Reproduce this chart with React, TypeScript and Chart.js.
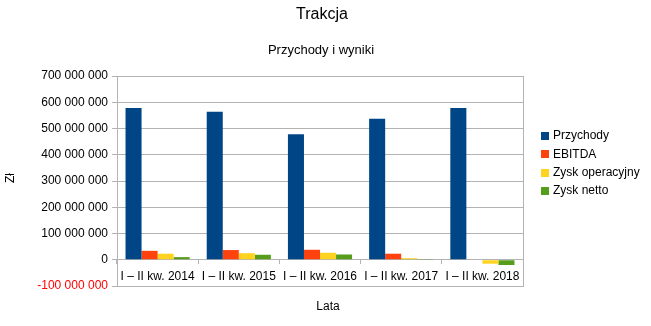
import React, { useEffect, useRef } from "react";
import { Chart, registerables } from "chart.js";

Chart.register(...registerables);

const categories = ["I – II kw. 2014", "I – II kw. 2015", "I – II kw. 2016", "I – II kw. 2017", "I – II kw. 2018"];
const przychody = [578000000, 564000000, 478000000, 537000000, 578000000];
const ebitda = [34000000, 37000000, 38000000, 23000000, -2000000];
const zyskOperacyjny = [23000000, 25000000, 26500000, 6000000, -15000000];
const zyskNetto = [10000000, 19000000, 20000000, 1000000, -20000000];
const yTickValues = [700000000, 600000000, 500000000, 400000000, 300000000, 200000000, 100000000, 0, -100000000];

const FONT = "'Liberation Sans', Arial, sans-serif";
const GRID = "#b3b3b3";

function fmt(v: number): string {
  const s = Math.abs(Math.round(v)).toString().replace(/\B(?=(\d{3})+(?!\d))/g, " ");
  return (v < 0 ? "-" : "") + s;
}

const decorPlugin = {
  id: "decor",
  beforeDatasetsDraw(chart: any) {
    const { ctx, chartArea } = chart;
    ctx.save();
    ctx.strokeStyle = GRID;
    ctx.lineWidth = 1;
    ctx.strokeRect(Math.round(chartArea.left) + 0.5, Math.round(chartArea.top) + 0.5,
      Math.round(chartArea.right - chartArea.left), Math.round(chartArea.bottom - chartArea.top));
    ctx.restore();
  },
  afterDraw(chart: any) {
    const { ctx } = chart;
    ctx.save();
    ctx.fillStyle = "#000";
    ctx.textAlign = "center";
    ctx.textBaseline = "middle";
    ctx.font = `16px ${FONT}`;
    ctx.fillText("Trakcja", 322, 15);
    ctx.font = `13px ${FONT}`;
    ctx.fillText("Przychody i wyniki", 321, 50);
    ctx.font = `12px ${FONT}`;
    ctx.fillText("Lata", 328, 307);
    ctx.save();
    ctx.translate(11, 178);
    ctx.rotate(-Math.PI / 2);
    ctx.fillText("Zł", 0, 0);
    ctx.restore();
    // legend
    ctx.textAlign = "left";
    const ds = chart.data.datasets;
    ds.forEach((d: any, i: number) => {
      const y = 136 + i * 18.3;
      ctx.fillStyle = d.backgroundColor;
      ctx.fillRect(541, Math.round(y - 4), 8, 8);
      ctx.fillStyle = "#000";
      ctx.fillText(d.label, 553, y);
    });
    ctx.restore();
  },
};

export default function App() {
  const ref = useRef<HTMLCanvasElement | null>(null);
  useEffect(() => {
    if (!ref.current) return;
    const chart = new Chart(ref.current, {
      type: "bar",
      data: {
        labels: categories,
        datasets: [
          { label: "Przychody", data: przychody, backgroundColor: "#004586" },
          { label: "EBITDA", data: ebitda, backgroundColor: "#ff420e" },
          { label: "Zysk operacyjny", data: zyskOperacyjny, backgroundColor: "#ffd320" },
          { label: "Zysk netto", data: zyskNetto, backgroundColor: "#579d1c" },
        ],
      },
      options: {
        responsive: false,
        animation: false,
        layout: { padding: { left: 0, top: 76, right: 128, bottom: 40 } },
        datasets: { bar: { barPercentage: 1, categoryPercentage: 0.79 } },
        plugins: {
          legend: { display: false },
          title: { display: false },
          tooltip: { enabled: false },
        },
        scales: {
          x: {
            position: { y: 0 } as any,
            offset: true,
            grid: { display: true, drawOnChartArea: false, drawTicks: true, tickLength: 4, offset: true, color: GRID },
            border: { display: true, color: GRID },
            ticks: { color: "#000", font: { family: FONT, size: 12 }, padding: 6, maxRotation: 0, autoSkip: false },
          },
          y: {
            min: -100000000,
            max: 700000000,
            afterFit: (scale: any) => { scale.width = 117; },
            afterBuildTicks: (scale: any) => { scale.ticks = yTickValues.map((v) => ({ value: v })); },
            grid: { color: GRID, tickLength: 5, drawTicks: true },
            border: { display: true, color: GRID },
            ticks: {
              color: (c: any) => (c.tick && c.tick.value < 0 ? "#ff0000" : "#000"),
              font: { family: FONT, size: 12 },
              padding: 4,
              callback: (v: any) => fmt(Number(v)),
            },
          },
        },
      },
      plugins: [decorPlugin],
    });
    return () => chart.destroy();
  }, []);
  return (
    <div style={{ position: "absolute", left: 0, top: 0, width: 651, height: 326, background: "#fff" }}>
      <canvas ref={ref} width={651} height={326} />
    </div>
  );
}
